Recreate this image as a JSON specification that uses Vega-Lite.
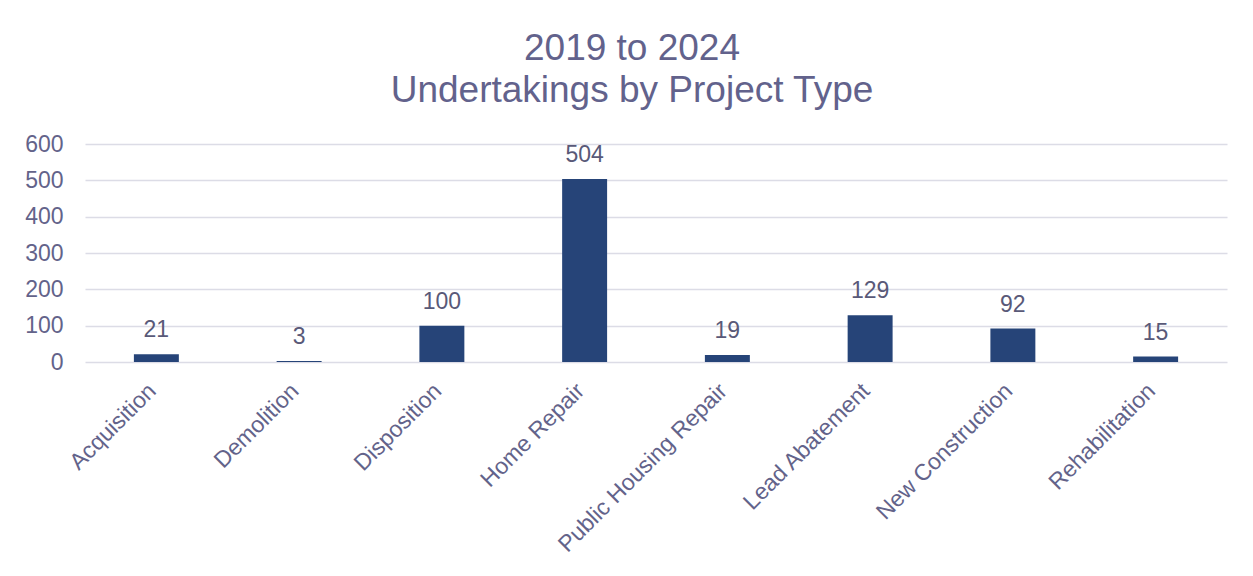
{
  "$schema": "https://vega.github.io/schema/vega-lite/v6.json",
  "autosize": "none",
  "width": 1142,
  "height": 218,
  "padding": {"left": 85, "top": 144, "right": 26, "bottom": 214},
  "background": "white",
  "title": {
    "text": ["2019 to 2024", "Undertakings by Project Type"],
    "font": "Liberation Sans",
    "fontSize": 37,
    "fontWeight": "normal",
    "color": "#62628c",
    "lineHeight": 42,
    "anchor": "middle",
    "offset": 23,
    "dx": -24
  },
  "data": {
    "values": [
      {"type": "Acquisition", "count": 21},
      {"type": "Demolition", "count": 3},
      {"type": "Disposition", "count": 100},
      {"type": "Home Repair", "count": 504},
      {"type": "Public Housing Repair", "count": 19},
      {"type": "Lead Abatement", "count": 129},
      {"type": "New Construction", "count": 92},
      {"type": "Rehabilitation", "count": 15}
    ]
  },
  "encoding": {
    "x": {
      "field": "type",
      "type": "nominal",
      "sort": null,
      "scale": {"paddingInner": 0, "paddingOuter": 0},
      "axis": {
        "title": null,
        "domain": false,
        "ticks": false,
        "labelAngle": -45,
        "labelAlign": "right",
        "labelBaseline": "middle",
        "labelPadding": 25,
        "labelOffset": -4,
        "labelFont": "Liberation Sans",
        "labelFontSize": 23,
        "labelColor": "#63638a",
        "labelLimit": 400
      }
    },
    "y": {
      "field": "count",
      "type": "quantitative",
      "scale": {"domain": [0, 600]},
      "axis": {
        "title": null,
        "domain": false,
        "ticks": false,
        "values": [0, 100, 200, 300, 400, 500, 600],
        "grid": true,
        "gridColor": "#dcdce6",
        "gridWidth": 1.5,
        "labelPadding": 22,
        "labelFont": "Liberation Sans",
        "labelFontSize": 23,
        "labelColor": "#63638a"
      }
    }
  },
  "layer": [
    {
      "mark": {"type": "bar", "width": {"band": 0.315}, "color": "#264478"}
    },
    {
      "mark": {
        "type": "text",
        "baseline": "alphabetic",
        "dy": -17,
        "font": "Liberation Sans",
        "fontSize": 23,
        "color": "#595978"
      },
      "encoding": {"text": {"field": "count", "type": "quantitative"}}
    }
  ],
  "config": {"view": {"stroke": null}}
}
